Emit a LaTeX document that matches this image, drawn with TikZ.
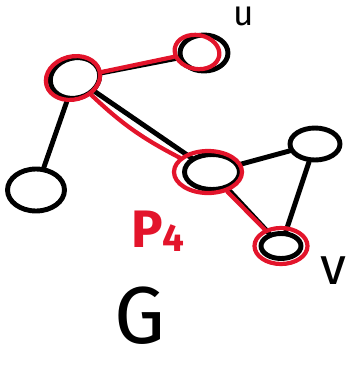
\documentclass[tikz,border=0pt]{standalone}
\usepackage{fontspec}
\setmainfont{Fira Sans}
\usepackage{tikz}
\usetikzlibrary{shapes.geometric}
\definecolor{pathcol}{HTML}{E3142B}

\begin{document}
\begin{tikzpicture}[x=0.02cm,y=-0.02cm,
  vertex/.style={draw,ellipse,line width=2.8pt,inner sep=0pt},
  hlvertex/.style={draw=pathcol,ellipse,line width=2.4pt,inner sep=0pt},
  edge/.style={line width=2.8pt,line cap=round},
  hledge/.style={draw=pathcol,line width=2.4pt,line cap=round},
  lab/.style={inner sep=0pt}]
  \useasboundingbox (0,0) rectangle (361,366);
  % graph G
  \node[vertex,minimum width=1.0cm,minimum height=0.8cm,rotate=15] (a) at (75,78) {};
  \node[vertex,minimum width=0.96cm,minimum height=0.72cm] (u) at (204,53) {};
  \node[vertex,minimum width=1.14cm,minimum height=0.84cm] (b) at (36,190) {};
  \node[vertex,minimum width=1.1cm,minimum height=0.7cm] (d) at (212,172) {};
  \node[vertex,minimum width=1.0cm,minimum height=0.64cm] (e) at (315,144) {};
  \node[vertex,minimum width=0.8cm,minimum height=0.5cm] (v) at (281,246) {};
  \draw[edge] (a)--(u);
  \draw[edge] (a)--(b);
  \draw[edge] (a)--(d);
  \draw[edge] (d)--(e);
  \draw[edge] (e)--(v);
  \draw[edge] (d)--(v);
  % path P4
  \node[hlvertex,minimum width=1.1cm,minimum height=0.86cm,rotate=15] (pa) at (73,78) {};
  \node[hlvertex,minimum width=0.9cm,minimum height=0.68cm,rotate=-10] (pu) at (197,52) {};
  \node[hlvertex,minimum width=1.36cm,minimum height=0.84cm] (pd) at (208,172) {};
  \node[hlvertex,minimum width=1.06cm,minimum height=0.72cm] (pv) at (281,246) {};
  \draw[hledge] (pa)--(pu);
  \draw[hledge] (pa) to[bend right=8] (pd);
  \draw[hledge] (pd)--(pv);
  % labels
  \node[lab] (ulab) at (244,16) {\fontsize{20}{20}\selectfont u};
  \node[lab] (vlab) at (333,271) {\fontsize{30}{30}\selectfont v};
  \node[lab,text=pathcol] (plab) at (158,231) {\fontsize{30}{30}\selectfont\bfseries P\raisebox{-2pt}{\fontsize{22}{22}\selectfont 4}};
  \node[lab] (glab) at (140,316) {\fontsize{46}{46}\selectfont G};
\end{tikzpicture}
\end{document}
